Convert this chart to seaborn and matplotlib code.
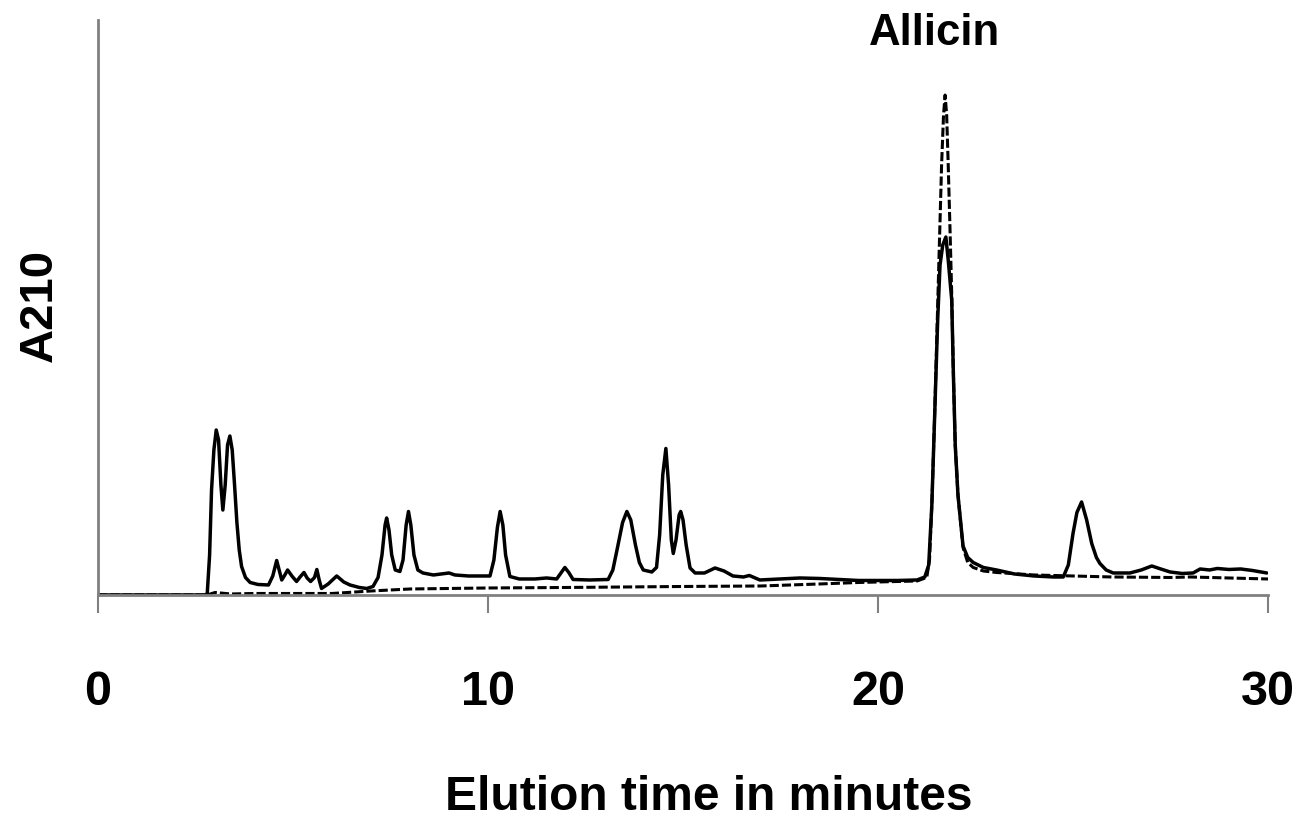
import matplotlib
matplotlib.use("Agg")
import matplotlib.pyplot as plt
import seaborn as sns
import pandas as pd

# garlic extract trace (solid)
sample_time = [0.0, 2.75, 2.80, 2.86, 2.91, 2.97, 3.03, 3.09, 3.15, 3.20, 3.26, 3.32, 3.38, 3.44,
               3.50, 3.56, 3.62, 3.68, 3.78, 3.90, 4.10, 4.37, 4.48, 4.58, 4.66, 4.71, 4.79, 4.86,
               4.97, 5.09, 5.18, 5.28, 5.36, 5.45, 5.55, 5.61, 5.67, 5.73, 5.90, 6.12, 6.30, 6.46,
               6.70, 6.89, 7.05, 7.18, 7.28, 7.36, 7.40, 7.46, 7.53, 7.62, 7.74, 7.82, 7.90, 7.96,
               8.02, 8.10, 8.20, 8.33, 8.60, 9.00, 9.15, 9.50, 10.05, 10.15, 10.24, 10.31, 10.38,
               10.45, 10.56, 10.80, 11.20, 11.50, 11.76, 11.88, 11.97, 12.07, 12.18, 12.60, 13.08,
               13.20, 13.32, 13.45, 13.56, 13.66, 13.78, 13.88, 13.98, 14.20, 14.32, 14.40, 14.48,
               14.56, 14.63, 14.70, 14.75, 14.82, 14.90, 14.94, 15.00, 15.08, 15.18, 15.31, 15.55,
               15.82, 16.05, 16.28, 16.55, 16.70, 16.97, 17.50, 18.00, 18.50, 19.00, 19.50, 20.00,
               20.50, 21.00, 21.20, 21.30, 21.38, 21.46, 21.53, 21.59, 21.66, 21.74, 21.80, 21.89,
               21.93, 21.98, 22.05, 22.18, 22.30, 22.44, 22.70, 23.04, 23.50, 24.00, 24.50, 24.75,
               24.88, 25.00, 25.10, 25.22, 25.35, 25.48, 25.60, 25.69, 25.85, 26.03, 26.46, 26.75,
               27.02, 27.25, 27.49, 27.80, 28.08, 28.26, 28.50, 28.70, 29.00, 29.30, 29.60, 29.97]
sample_a210 = [0.0, 0.0, 0.3, 8.0, 21.0, 29.0, 33.0, 31.0, 22.0, 17.0, 22.0, 30.0, 31.8, 29.0,
               22.0, 14.5, 9.0, 5.7, 3.5, 2.5, 2.1, 2.0, 3.8, 6.9, 4.5, 3.0, 4.0, 5.0,
               3.8, 2.7, 3.6, 4.5, 3.4, 2.7, 3.5, 5.1, 3.0, 1.3, 2.2, 3.8, 2.6, 2.0,
               1.5, 1.3, 1.7, 3.5, 8.0, 14.0, 15.4, 13.0, 8.0, 5.0, 4.7, 7.0, 14.0, 16.7,
               14.0, 8.0, 5.0, 4.4, 4.0, 4.4, 4.0, 3.8, 3.8, 7.0, 13.5, 16.7, 14.0,
               8.0, 3.7, 3.2, 3.2, 3.4, 3.2, 4.5, 5.5, 4.5, 3.1, 3.0, 3.1,
               5.0, 9.5, 14.5, 16.7, 15.0, 10.0, 6.5, 5.0, 4.6, 5.5, 12.0, 24.0,
               29.3, 22.0, 11.0, 8.3, 11.0, 16.0, 16.7, 15.0, 10.0, 5.4, 4.4, 4.4,
               5.4, 4.8, 3.8, 3.6, 3.9, 3.0, 3.2, 3.4, 3.3, 3.1, 2.9, 2.9,
               2.9, 3.0, 3.6, 6.0, 18.0, 38.0, 55.0, 66.0, 70.0, 71.6, 67.0, 59.0,
               45.0, 30.0, 20.0, 9.8, 7.5, 6.5, 5.5, 5.0, 4.2, 3.8, 3.6, 3.6,
               6.0, 12.3, 16.5, 18.6, 15.0, 10.3, 7.5, 6.3, 5.0, 4.4, 4.4, 5.0,
               5.8, 5.2, 4.6, 4.3, 4.4, 5.2, 5.0, 5.3, 5.1, 5.2, 4.9, 4.4]

# allicin standard trace (dashed)
standard_time = [0.0, 2.80, 3.00, 3.40, 4.00, 6.00, 7.00, 8.00, 10.00, 12.00, 15.00, 17.00,
                 18.50, 19.50, 21.00, 21.25, 21.32, 21.38, 21.46, 21.53, 21.58, 21.63, 21.68,
                 21.72, 21.76, 21.80, 21.85, 21.89, 21.93, 21.98, 22.05, 22.18, 22.30, 22.44,
                 22.70, 23.04, 24.00, 26.00, 27.50, 28.00, 30.00]
standard_a210 = [0.0, 0.0, 0.5, 0.2, 0.3, 0.3, 0.8, 1.2, 1.4, 1.5, 1.7, 1.8,
                 2.2, 2.5, 2.8, 3.5, 7.0, 18.0, 38.0, 58.0, 72.0, 86.0, 96.0,
                 100.0, 96.0, 86.0, 72.0, 60.0, 45.0, 30.0, 20.0, 9.5, 6.5, 5.5,
                 4.8, 4.5, 4.0, 3.6, 3.5, 3.6, 3.2]

x_ticks = [0, 10, 20, 30]
peak_name = "Allicin"
peak_label_at = (21.46, 112.4)

sample = pd.DataFrame({"time": sample_time, "a210": sample_a210})
standard = pd.DataFrame({"time": standard_time, "a210": standard_a210})

sns.set_theme(style="white")
plt.rcParams['font.family'] = ['Liberation Sans', 'DejaVu Sans']
plt.rcParams['text.color'] = 'black'
plt.rcParams['axes.labelcolor'] = 'black'

fig = plt.figure(figsize=(13.11, 8.21), dpi=100)
ax = fig.add_axes([0.0748, 0.2753, 0.8924, 0.7003])

sns.lineplot(data=sample, x="time", y="a210", sort=False, estimator=None,
             color="black", linewidth=2.5, ax=ax)
sns.lineplot(data=standard, x="time", y="a210", sort=False, estimator=None,
             color="black", linewidth=2.2, linestyle=(0, (3.0, 1.0)), ax=ax)

ax.set_xlim(0, 30)
ax.set_ylim(0, 115)
ax.set_xticks(x_ticks)
ax.set_xticklabels([str(t) for t in x_ticks], fontsize=35, fontweight="bold")
ax.set_yticks([])
ax.tick_params(axis="x", direction="out", length=13, width=1.5, color="#808080",
               labelcolor="black", pad=41, bottom=True)

sns.despine(ax=ax, top=True, right=True)
for side in ["left", "bottom"]:
    ax.spines[side].set_color("#808080")
    ax.spines[side].set_linewidth(2)

ax.set_xlabel("Elution time in minutes", fontsize=34.5, fontweight="bold")
ax.xaxis.set_label_coords(0.522, -0.313)
ax.set_ylabel("A210", fontsize=34, fontweight="bold")
ax.yaxis.set_label_coords(-0.031, 0.504)

ax.text(peak_label_at[0], peak_label_at[1], peak_name, fontsize=31.5, fontweight="bold",
        ha="center", va="center", clip_on=False)

fig.savefig("out.png", dpi=100, facecolor="white")
